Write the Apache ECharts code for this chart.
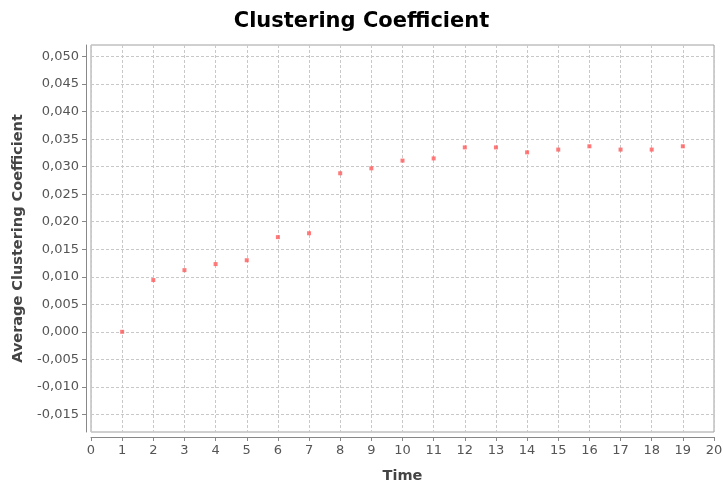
<!DOCTYPE html>
<html><head><meta charset="utf-8">
<script src="https://cdn.jsdelivr.net/npm/echarts@6/dist/echarts.min.js"></script>
<style>html,body{margin:0;padding:0;background:#fff}#c{width:723px;height:484px}</style>
</head><body><div id="c"></div>
<script>
const times = [1,2,3,4,5,6,7,8,9,10,11,12,13,14,15,16,17,18,19];
const avgClustering = [0.0000,0.0094,0.0112,0.0123,0.0130,0.0172,0.0179,0.0288,0.0297,0.0311,0.0315,0.0335,0.0335,0.0326,0.0331,0.0337,0.0331,0.0331,0.0337];
const yTicks = [-0.015,-0.010,-0.005,0.000,0.005,0.010,0.015,0.020,0.025,0.030,0.035,0.040,0.045,0.050];

const chart = echarts.init(document.getElementById('c'), null, {renderer:'canvas'});
const font = 'DejaVu Sans';
chart.setOption({
  animation:false,
  backgroundColor:'#fff',
  title:{text:'Clustering Coefficient',left:'center',top:6,
    textStyle:{fontFamily:font,fontWeight:'bold',fontSize:21,color:'#000'}},
  grid:{left:91,right:9,top:45,bottom:52,show:true,borderColor:'#a0a0a0',borderWidth:1,backgroundColor:'#fff',
    containLabel:false,outerBoundsMode:'none'},
  xAxis:{type:'value',min:0,max:20,interval:1,offset:5,
    name:'Time',nameLocation:'middle',nameGap:32,
    nameTextStyle:{fontFamily:font,fontWeight:'bold',fontSize:14.5,color:'#444'},
    axisLine:{show:true,onZero:false,lineStyle:{color:'#888'}},
    axisTick:{show:true,length:4,lineStyle:{color:'#888'}},
    axisLabel:{fontFamily:font,fontSize:13,color:'#555',margin:7},
    splitLine:{show:true,lineStyle:{color:'#c8c8c8',type:[3,2],width:1}}},
  yAxis:{type:'value',min:-0.0182,max:0.0521,offset:5,
    name:'Average Clustering Coefficient',nameLocation:'middle',nameGap:58,
    nameTextStyle:{fontFamily:font,fontWeight:'bold',fontSize:14.5,color:'#444'},
    axisLine:{show:true,onZero:false,lineStyle:{color:'#888'}},
    axisTick:{show:true,length:4,lineStyle:{color:'#888'},customValues:yTicks},
    axisLabel:{fontFamily:font,fontSize:13,color:'#555',margin:7,customValues:yTicks,
      formatter:v=>v.toFixed(3).replace('.',',')},
    splitLine:{show:true,lineStyle:{color:'#c8c8c8',type:[3,2],width:1}}},
  series:[{type:'scatter',symbol:'rect',symbolSize:4,
    itemStyle:{color:'#ff5a5a'},
    data:times.map((t,i)=>[t,avgClustering[i]])}]
});
</script></body></html>
